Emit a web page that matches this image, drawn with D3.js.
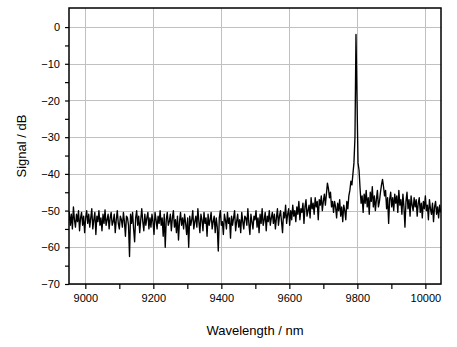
<!DOCTYPE html>
<html><head><meta charset="utf-8">
<script src="https://cdn.jsdelivr.net/npm/d3@7/dist/d3.min.js"></script>
<style>body{margin:0;background:#fff}svg{display:block}text{font-family:"Liberation Sans",Arial,sans-serif}</style>
</head><body><svg id="c" width="457" height="347"></svg>
<script>
const wlStart = 8950, wlStep = 3;
const signal = [
-53,-50.5,-54,-51,-55,-49,-52.5,-54.5,-51,-53,-50,-55.5,-52,-50.5,-54,-51.5,-56,-52,-50,-53.5,
-51,-54.5,-52,-49.5,-55,-52.5,-50.5,-56.5,-51.5,-53,-50,-54,-52,-55.5,-51,-53.5,-49.8,-54,-52.5,-51,
-55,-52,-50.5,-54,-53,-51,-56,-52.5,-50,-53.5,-55,-51.5,-52.5,-54.5,-50.5,-53,-57,-51.5,-52,-54,
-62.5,-51,-53.5,-50.5,-55,-58.5,-52,-50,-54,-51.5,-56,-52.5,-49.5,-53,-55.5,-51,-54,-52,-50.5,-55,
-52,-54.5,-51,-53,-56.5,-50.5,-52.5,-55,-51.5,-53.5,-50,-54,-52,-57,-51,-60,-52.5,-50.5,-54,-53,
-51,-55.5,-52,-50,-54.5,-52.5,-56,-51.5,-58,-53,-50.5,-54,-52,-55,-51,-53.5,-56.5,-52,-60,-51.5,
-54,-52.5,-50,-55,-53,-51.5,-54.5,-49.5,-53,-56,-51,-52.5,-55.5,-50.5,-53.5,-52,-57,-51,-54,-52.5,
-50.5,-55,-53,-51.5,-56,-52,-54.5,-61,-52,-50,-54,-53,-56.5,-51,-52.5,-55,-50.5,-53.5,-52,-57.5,
-51.5,-54,-52,-50,-55.5,-53,-51,-54.5,-52.5,-56,-50.5,-53,-55,-51.5,-52,-54,-49.5,-53.5,-56.5,-51,
-53,-55,-51.5,-52.5,-50,-54.5,-52,-56,-51,-53.5,-49.5,-54,-52.5,-50.5,-55.5,-51.5,-53,-50,-54,-52,
-50.5,-53.5,-51,-55,-52,-49.5,-54,-51.5,-50,-53,-56,-50.5,-52,-48.5,-53.5,-51,-49.5,-54,-50,-52.5,
-48.5,-51.5,-50,-53,-49,-51,-47.5,-52.5,-49.5,-50.5,-48,-53.5,-49,-47,-51.5,-50,-48.5,-52,-46.5,-49.5,
-48,-51,-46.5,-49,-47.5,-52.5,-47,-48.5,-46,-50,-47.5,-45.5,-48.5,-45.5,-42.5,-44,-46.5,-45,-49,-47.5,
-50.5,-47.5,-49,-52,-48,-50,-47,-51.5,-49,-53,-48.5,-50,-52.5,-47.5,-49.5,-46,-44.5,-42,-43,-40,
-37,-30,-2,-20,-37,-39,-44,-48,-46,-50.5,-45.5,-48,-44.5,-49,-46.5,-51,-45,-47.5,-43.5,-49,
-46,-50,-47,-44.5,-49,-47.5,-45,-43,-41.5,-43.5,-46,-44.5,-49.5,-46.5,-53.5,-47,-45,-49,-46.5,-50,
-45.5,-48,-46,-50.5,-44.5,-48.5,-47,-51,-45.5,-49,-54.5,-47.5,-45,-49.5,-47,-51.5,-46,-48.5,-50,-46.5,
-49,-47,-51.5,-48,-46.5,-50.5,-48,-52,-47.5,-49.5,-46,-50,-48.5,-52.5,-47,-49.5,-51,-48,-53,-49,
-47.5,-51,-49,-52,-48.5,-50.5
];
const xMajorTicks = [9000, 9200, 9400, 9600, 9800, 10000];
const xMinorTicks = [9100, 9300, 9500, 9700, 9900];
const yMajorTicks = [0, -10, -20, -30, -40, -50, -60, -70];
const yMinorTicks = [-5, -15, -25, -35, -45, -55, -65];
const xTitle = "Wavelength / nm", yTitle = "Signal / dB";

const data = signal.map((v, i) => ({w: wlStart + wlStep * i, v}));
const W = 457, H = 347, m = {l: 69, t: 8, r: 16, b: 63};
const svg = d3.select("#c");
const x = d3.scaleLinear().domain([8952, 10046]).range([m.l, W - m.r]);
const y = d3.scaleLinear().domain([-70, 5.2]).range([H - m.b, m.t]);
const g = svg.append("g");
// grid
g.selectAll(".gx").data(xMajorTicks).join("line")
  .attr("x1", d => Math.round(x(d)) + 0.5).attr("x2", d => Math.round(x(d)) + 0.5)
  .attr("y1", m.t).attr("y2", H - m.b).attr("stroke", "#c0c0c0").attr("stroke-width", 1);
g.selectAll(".gy").data(yMajorTicks).join("line")
  .attr("y1", d => Math.round(y(d)) + 0.5).attr("y2", d => Math.round(y(d)) + 0.5)
  .attr("x1", m.l).attr("x2", W - m.r).attr("stroke", "#c0c0c0").attr("stroke-width", 1);
// line
const clip = svg.append("clipPath").attr("id", "cp").append("rect")
  .attr("x", m.l).attr("y", m.t).attr("width", W - m.l - m.r).attr("height", H - m.t - m.b);
svg.append("path").datum(data).attr("clip-path", "url(#cp)")
  .attr("fill", "none").attr("stroke", "#000").attr("stroke-width", 1.35).attr("stroke-linejoin", "round")
  .attr("d", d3.line().x(d => x(d.w)).y(d => y(d.v)));
// axes
const xa = svg.append("g").attr("transform", `translate(0,${H - m.b})`)
  .call(d3.axisBottom(x).tickValues(xMajorTicks).tickSize(5).tickPadding(5).tickFormat(d3.format("d")));
const xm = svg.append("g").attr("transform", `translate(0,${H - m.b})`)
  .call(d3.axisBottom(x).tickValues(xMinorTicks).tickSize(5).tickFormat(""));
const ya = svg.append("g").attr("transform", `translate(${m.l},0)`)
  .call(d3.axisLeft(y).tickValues(yMajorTicks).tickSize(4).tickPadding(5).tickFormat(d3.format("d")));
const ym = svg.append("g").attr("transform", `translate(${m.l},0)`)
  .call(d3.axisLeft(y).tickValues(yMinorTicks).tickSize(4).tickFormat(""));
[xa, xm, ya, ym].forEach(a => {
  a.select(".domain").remove();
  a.selectAll("line").attr("stroke", "#000").attr("stroke-width", 1.2);
  a.selectAll("text").attr("font-size", 11).attr("fill", "#000").attr("font-family", '"Liberation Sans",Arial,sans-serif');
});
// frame
svg.append("rect").attr("x", m.l).attr("y", m.t).attr("width", W - m.l - m.r).attr("height", H - m.t - m.b)
  .attr("fill", "none").attr("stroke", "#000").attr("stroke-width", 1.5);
svg.append("text").attr("x", (m.l + W - m.r) / 2).attr("y", 335).attr("text-anchor", "middle")
  .attr("font-size", 13).text(xTitle);
svg.append("text").attr("transform", `translate(26,${(m.t + H - m.b) / 2}) rotate(-90)`)
  .attr("text-anchor", "middle").attr("font-size", 13).text(yTitle);
</script></body></html>
